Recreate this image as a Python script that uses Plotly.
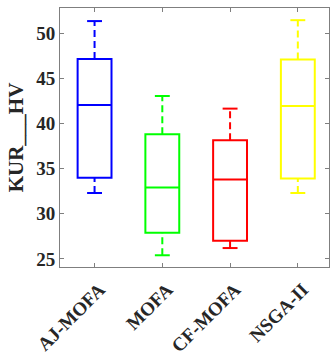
import plotly.graph_objects as go

methods = ["AJ-MOFA", "MOFA", "CF-MOFA", "NSGA-II"]
colors = ["#0000FF", "#00FF00", "#FF0000", "#FFFF00"]
lower_whisker = [32.3, 25.4, 26.2, 32.3]
q1 = [34.0, 27.9, 27.0, 33.9]
median = [42.05, 32.9, 33.8, 41.95]
q3 = [47.15, 38.8, 38.15, 47.1]
upper_whisker = [51.35, 43.05, 41.65, 51.45]

font_family = "Liberation Serif"
text_color = "#262626"
frame_color = "#7f7f7f"
cap_half = 0.11

fig = go.Figure()
for i, name in enumerate(methods):
    c = colors[i]
    # box body: quartiles and median, whiskers drawn separately below
    fig.add_trace(go.Box(
        x=[i], q1=[q1[i]], median=[median[i]], q3=[q3[i]],
        lowerfence=[q1[i]], upperfence=[q3[i]],
        width=0.5, line=dict(color=c, width=2), fillcolor="rgba(0,0,0,0)",
        boxpoints=False, whiskerwidth=0, showlegend=False, hoverinfo="skip",
    ))
    # dashed whiskers
    for a, b in ((q3[i], upper_whisker[i]), (lower_whisker[i], q1[i])):
        fig.add_trace(go.Scatter(
            x=[i, i], y=[a, b], mode="lines",
            line=dict(color=c, width=2, dash="7px,4px"),
            showlegend=False, hoverinfo="skip",
        ))
    # whisker caps
    for v in (upper_whisker[i], lower_whisker[i]):
        fig.add_trace(go.Scatter(
            x=[i - cap_half, i + cap_half], y=[v, v], mode="lines",
            line=dict(color=c, width=2),
            showlegend=False, hoverinfo="skip",
        ))

fig.update_layout(
    width=332, height=356,
    margin=dict(l=60, r=3, t=8, b=89),
    paper_bgcolor="white", plot_bgcolor="white",
    font=dict(family=font_family, color=text_color),
)
fig.update_xaxes(
    range=[-0.51, 3.46], tickmode="array", tickvals=[0, 1, 2, 3], ticktext=methods,
    tickangle=-45, ticks="inside", ticklen=4, tickcolor=frame_color,
    ticklabelshift=5, ticklabelstandoff=3, automargin=False,
    showline=True, linecolor=frame_color, linewidth=1, mirror="ticks",
    showgrid=False, zeroline=False,
    tickfont=dict(family=font_family, size=19, color=text_color, weight="bold"),
)
fig.update_yaxes(
    range=[24.1, 52.8], tickvals=[25, 30, 35, 40, 45, 50],
    ticks="inside", ticklen=4, tickcolor=frame_color, automargin=False,
    showline=True, linecolor=frame_color, linewidth=1, mirror="ticks",
    showgrid=False, zeroline=False,
    tickfont=dict(family=font_family, size=19, color=text_color, weight="bold"),
    title=dict(text="KUR___HV", standoff=6,
               font=dict(family=font_family, size=21, color=text_color, weight="bold")),
)

fig.write_html("out.html")
